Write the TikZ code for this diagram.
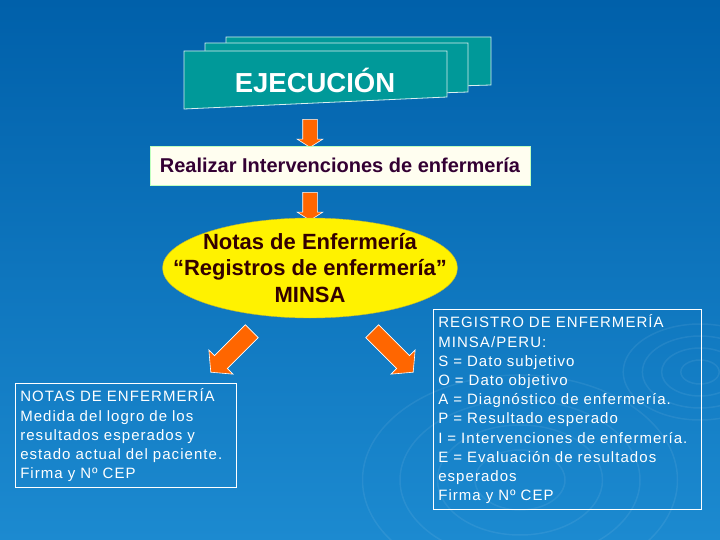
\documentclass[tikz,border=0pt]{standalone}
\usepackage{fontspec}
\setmainfont{Liberation Sans}
\newfontfamily\suelta[LetterSpace=7]{Liberation Sans}
\usetikzlibrary{shapes.geometric,shapes.arrows}
\definecolor{bgtop}{RGB}{0,96,170}
\definecolor{bgbot}{RGB}{28,138,208}
\definecolor{panel}{RGB}{0,153,153}
\definecolor{blockor}{RGB}{255,102,0}
\definecolor{darkplum}{RGB}{51,0,51}
\definecolor{darkbrown}{RGB}{51,0,0}

\tikzset{
  flecha/.style={single arrow, draw=white, fill=blockor, line width=0.6pt, minimum height=28pt, minimum width=25pt, inner sep=7pt, single arrow head extend=5.5pt, single arrow tip angle=115},
  hoja/.style={fill=panel, draw=white!85!panel, line width=0.8pt},
  infobox/.style={draw=white, line width=0.6pt, text=white, align=left, anchor=north west, inner sep=5pt, font=\suelta\fontsize{15}{19.2}\selectfont},
  onda/.style={draw=white, opacity=0.07, line width=1.5pt}
}

\begin{document}
\begin{tikzpicture}[x=1pt,y=-1pt]
\useasboundingbox (0,0) rectangle (720,540);
\shade[top color=bgtop, bottom color=bgbot] (0,0) rectangle (720,540);

% ripples in the background
\foreach \r in {12,24,36,48} {
  \draw[onda] (700,372) ellipse ({1.6*\r} and {\r});
}
\foreach \r in {30,55,80,105} {
  \draw[onda] (520,480) ellipse ({1.5*\r} and {\r});
}

% stacked sheets
\draw[hoja] (226,37) -- (491,37) -- (491,85) -- (226,93) -- cycle;
\draw[hoja] (205,43) -- (468,43) -- (468,92) -- (205,101) -- cycle;
\draw[hoja] (184,51) -- (447,51) -- (447,97) -- (184,109) -- cycle;
\node[text=white, font=\fontsize{27.5}{27.5}\selectfont\bfseries] (ejec) at (315,80) {EJECUCIÓN};

\node[flecha, rotate=-90] (fl1) at (310,131) {};

\node[rectangle, fill=white!94!yellow, draw=green!25!white, line width=0.8pt, minimum width=380pt, minimum height=39pt, inner sep=0pt, text=darkplum, font=\fontsize{20}{20}\selectfont\bfseries] (realiz) at (340,165.5) {Realizar Intervenciones de enfermería};

\node[flecha, rotate=-90] (fl2) at (310,204) {};

\node[ellipse, fill=yellow, draw=yellow!70!black, line width=0.4pt, minimum width=295pt, minimum height=100pt, inner xsep=-45pt, inner ysep=-12pt, align=center, text=darkbrown, font=\fontsize{22}{26.5}\selectfont\bfseries] (minsa) at (310,268) {Notas de Enfermería\\“Registros de enfermería”\\MINSA};

\node[flecha, rotate=-135, minimum height=58pt, minimum width=34pt, inner sep=8.8pt, single arrow head extend=8pt, single arrow tip angle=100] (fl3) at (234,349) {};
\node[flecha, rotate=-45, minimum height=58pt, minimum width=34pt, inner sep=8.8pt, single arrow head extend=8pt, single arrow tip angle=100] (fl4) at (390,349) {};

\node[infobox, text width=211pt, minimum height=104pt] (notas) at (15,383) {NOTAS DE ENFERMERÍA\\Medida del logro de los\\resultados esperados y\\estado actual del paciente.\\Firma y Nº CEP};

\node[infobox, text width=258pt, minimum height=200pt] (registro) at (433,309) {REGISTRO DE ENFERMERÍA\\MINSA/PERU:\\S = Dato subjetivo\\O = Dato objetivo\\A = Diagnóstico de enfermería.\\P = Resultado esperado\\I = Intervenciones de enfermería.\\E = Evaluación de resultados\\esperados\\Firma y Nº CEP};
\end{tikzpicture}
\end{document}
